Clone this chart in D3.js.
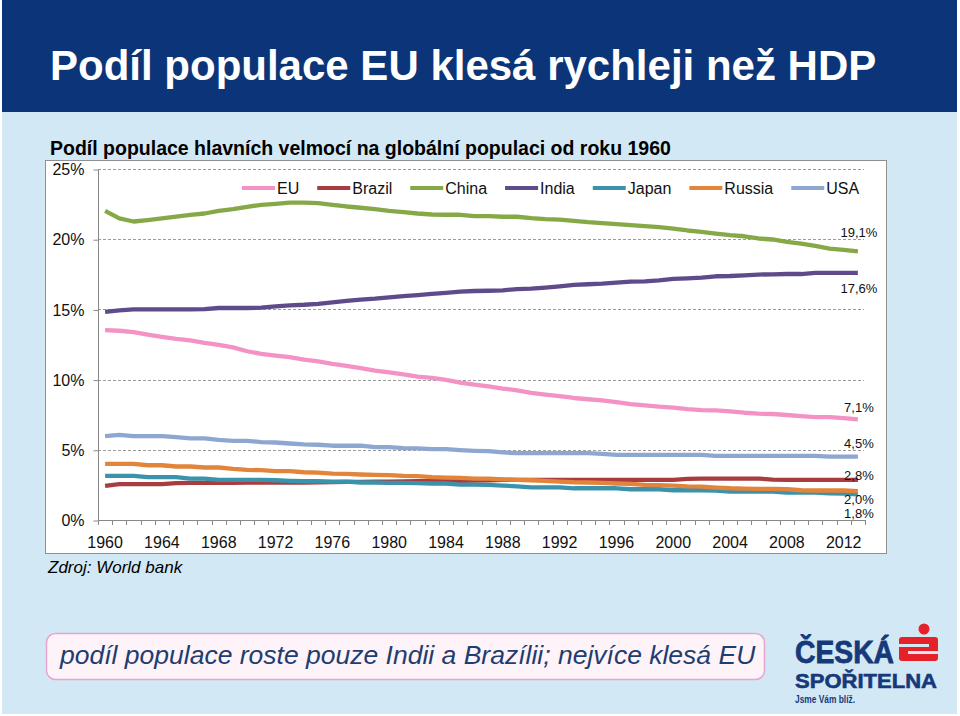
<!DOCTYPE html>
<html><head><meta charset="utf-8">
<script src="https://cdn.jsdelivr.net/npm/d3@7"></script>
<style>
body{margin:0;background:#fff;}
svg{display:block;font-family:"Liberation Sans",Arial,sans-serif;}
</style>
</head><body>
<svg id="c" width="960" height="716"></svg>
<script>
// ---------- data ----------
const years = [1960,1961,1962,1963,1964,1965,1966,1967,1968,1969,1970,1971,1972,1973,1974,1975,1976,1977,1978,1979,
  1980,1981,1982,1983,1984,1985,1986,1987,1988,1989,1990,1991,1992,1993,1994,1995,1996,1997,1998,1999,
  2000,2001,2002,2003,2004,2005,2006,2007,2008,2009,2010,2011,2012,2013];
const seriesNames = ["EU","Brazil","China","India","Japan","Russia","USA"];
const eu = [13.52,13.48,13.38,13.21,13.05,12.9,12.79,12.62,12.48,12.29,12.02,11.83,11.71,11.6,11.43,11.29,11.12,10.98,10.81,10.64,
  10.52,10.38,10.21,10.12,9.98,9.79,9.64,9.52,9.36,9.24,9.05,8.93,8.83,8.69,8.6,8.52,8.4,8.26,8.17,8.07,
  8.0,7.9,7.83,7.81,7.74,7.64,7.57,7.55,7.48,7.4,7.33,7.33,7.26,7.17];
const brazil = [2.43,2.55,2.55,2.55,2.55,2.62,2.64,2.64,2.64,2.64,2.67,2.67,2.67,2.67,2.67,2.69,2.7,2.71,2.72,2.73,
  2.74,2.75,2.76,2.77,2.78,2.79,2.8,2.83,2.86,2.86,2.86,2.86,2.86,2.86,2.86,2.86,2.86,2.86,2.86,2.86,
  2.86,2.93,2.95,2.95,2.95,2.95,2.95,2.88,2.86,2.86,2.86,2.86,2.86,2.86];
const china = [22.02,21.48,21.26,21.36,21.48,21.6,21.74,21.83,22.02,22.14,22.31,22.45,22.52,22.6,22.6,22.57,22.45,22.33,22.24,22.14,
  22.02,21.93,21.83,21.76,21.74,21.74,21.64,21.64,21.6,21.6,21.5,21.43,21.4,21.31,21.21,21.14,21.07,21.0,20.93,20.86,
  20.76,20.62,20.52,20.4,20.29,20.21,20.05,19.98,19.81,19.69,19.52,19.33,19.24,19.14];
const india = [14.83,14.93,15.0,15.0,15.0,15.0,15.0,15.02,15.1,15.1,15.1,15.12,15.21,15.29,15.33,15.4,15.5,15.6,15.69,15.76,
  15.86,15.95,16.02,16.1,16.17,16.26,16.31,16.33,16.36,16.45,16.48,16.55,16.64,16.74,16.79,16.83,16.9,16.98,17.0,17.07,
  17.17,17.21,17.26,17.36,17.38,17.43,17.48,17.5,17.52,17.52,17.6,17.6,17.6,17.6];
const japan = [3.14,3.14,3.14,3.05,3.05,3.05,2.95,2.95,2.86,2.86,2.86,2.86,2.83,2.79,2.76,2.76,2.74,2.74,2.67,2.67,
  2.64,2.64,2.62,2.6,2.6,2.52,2.52,2.5,2.45,2.4,2.33,2.33,2.33,2.26,2.26,2.26,2.26,2.19,2.19,2.19,
  2.12,2.12,2.12,2.1,2.02,2.02,2.02,2.02,1.95,1.95,1.95,1.9,1.88,1.83];
const russia = [4.0,4.0,4.0,3.9,3.9,3.81,3.81,3.74,3.74,3.64,3.57,3.55,3.48,3.48,3.4,3.38,3.31,3.29,3.24,3.21,
  3.19,3.14,3.12,3.05,3.02,3.0,2.95,2.95,2.9,2.86,2.83,2.79,2.74,2.69,2.67,2.64,2.6,2.57,2.5,2.48,
  2.45,2.4,2.38,2.31,2.26,2.24,2.21,2.21,2.19,2.12,2.1,2.1,2.1,2.05];
const usa = [5.98,6.07,5.98,5.98,5.98,5.9,5.81,5.81,5.71,5.64,5.64,5.55,5.52,5.45,5.38,5.36,5.29,5.29,5.29,5.19,
  5.19,5.12,5.1,5.05,5.05,4.98,4.93,4.9,4.81,4.76,4.76,4.76,4.76,4.76,4.76,4.71,4.64,4.64,4.64,4.64,
  4.64,4.64,4.64,4.57,4.57,4.57,4.57,4.57,4.57,4.57,4.57,4.52,4.52,4.52];
const endLabels = ["7,1%","2,8%","19,1%","17,6%","1,8%","2,0%","4,5%"];
const yTicks = [0,5,10,15,20,25];
const yTickLabels = ["0%","5%","10%","15%","20%","25%"];
const xTickYears = [1960,1964,1968,1972,1976,1980,1984,1988,1992,1996,2000,2004,2008,2012];
const xTickLabels = ["1960","1964","1968","1972","1976","1980","1984","1988","1992","1996","2000","2004","2008","2012"];

// ---------- styling ----------
const colors = ["#f392c4","#a83c3f","#86a947","#5f4b8b","#3a93ab","#e2843a","#8ea7d1"];
const labelDy = [-12,-4,-19,16,19,8,-13];
const values = [eu,brazil,china,india,japan,russia,usa];

const svg = d3.select("#c");

// backgrounds
svg.append("rect").attr("x",2).attr("y",0).attr("width",955).attr("height",112).attr("fill","#0b3578");
svg.append("rect").attr("x",2).attr("y",112).attr("width",955).attr("height",602).attr("fill","#d3e8f5");

svg.append("text").attr("x",50).attr("y",80).attr("font-size",42).attr("font-weight","bold")
  .attr("fill","#fff").text("Podíl populace EU klesá rychleji než HDP");

svg.append("text").attr("x",50).attr("y",155).attr("font-size",19.5).attr("font-weight","bold")
  .attr("fill","#000").text("Podíl populace hlavních velmocí na globální populaci od roku 1960");

svg.append("rect").attr("x",45.5).attr("y",160.5).attr("width",841).attr("height",393)
  .attr("fill","#fff").attr("stroke","#8f8f8f");

// scales
const x = d3.scaleBand().domain(years).range([98,865]);
const y = d3.scaleLinear().domain([0,25]).range([520,169]);
const cx = d => x(d) + x.bandwidth()/2;

// gridlines
svg.append("g").selectAll("line").data(yTicks.filter(d=>d>0)).join("line")
  .attr("x1",98).attr("x2",864).attr("y1",d=>Math.round(y(d))+0.5).attr("y2",d=>Math.round(y(d))+0.5)
  .attr("stroke","#9b9b9b").attr("stroke-dasharray","3,2");

// y axis
const ya = svg.append("g").attr("transform","translate(98.5,0.5)")
  .call(d3.axisLeft(y).tickValues(yTicks).tickSize(5).tickPadding(9).tickFormat((d,i)=>yTickLabels[i]));
ya.select(".domain").attr("stroke","#888").attr("d","M-0,169V520");
ya.selectAll(".tick line").attr("stroke","#888");
ya.selectAll("text").attr("font-size",16).attr("fill","#111").attr("font-family","Liberation Sans, Arial, sans-serif");

// x axis
const xa = svg.append("g").attr("transform","translate(0,520.5)")
  .call(d3.axisBottom(x).tickValues(xTickYears).tickSize(0).tickPadding(16)
    .tickFormat(d=>xTickLabels[xTickYears.indexOf(d)]));
xa.select(".domain").attr("stroke","#888").attr("d","M98,0H865");
xa.selectAll("text").attr("font-size",16).attr("fill","#111").attr("font-family","Liberation Sans, Arial, sans-serif");
const bounds = years.map(d=>x(d)).concat([x(years[years.length-1])+x.bandwidth()]);
svg.append("g").selectAll("line").data(bounds).join("line")
  .attr("x1",d=>Math.round(d)+0.5).attr("x2",d=>Math.round(d)+0.5)
  .attr("y1",520).attr("y2",525).attr("stroke","#888");

// lines
const line = d3.line().x((d,i)=>cx(years[i])).y(d=>y(d));
svg.append("g").selectAll("path").data(values).join("path")
  .attr("d",d=>line(d)).attr("fill","none").attr("stroke",(d,i)=>colors[i])
  .attr("stroke-width",4.3).attr("stroke-linejoin","round").attr("stroke-linecap","butt");

// end labels
const last = years[years.length-1];
svg.append("g").selectAll("text").data(values).join("text")
  .attr("x",cx(last)+1).attr("y",(d,i)=>y(d[d.length-1])+labelDy[i])
  .attr("dy","0.35em").attr("text-anchor","middle").attr("font-size",13).attr("fill","#111")
  .text((d,i)=>endLabels[i]);

// legend
let lx = 242;
const lg = svg.append("g");
seriesNames.forEach((n,i)=>{
  lg.append("line").attr("x1",lx).attr("x2",lx+33).attr("y1",188).attr("y2",188)
    .attr("stroke",colors[i]).attr("stroke-width",4);
  const t = lg.append("text").attr("x",lx+35).attr("y",194).attr("font-size",16).attr("fill","#111").text(n);
  lx += 35 + t.node().getComputedTextLength() + 18;
});

// source
svg.append("text").attr("x",48).attr("y",573).attr("font-size",17).attr("font-style","italic")
  .attr("fill","#000").text("Zdroj: World bank");

// bottom box
svg.append("rect").attr("x",46.5).attr("y",633.5).attr("width",718).attr("height",46).attr("rx",9)
  .attr("fill","#fdf3f9").attr("stroke","#e8a6cf").attr("stroke-width",1.5);
svg.append("text").attr("x",60).attr("y",664).attr("font-size",26.5).attr("font-style","italic")
  .attr("fill","#1e3d70").text("podíl populace roste pouze Indii a Brazílii; nejvíce klesá EU");

// logo
const logo = svg.append("g");
logo.append("text").attr("x",795).attr("y",663).attr("font-size",31).attr("font-weight","bold")
  .attr("fill","#16397a").attr("stroke","#16397a").attr("stroke-width",0.8)
  .attr("textLength",99).attr("lengthAdjust","spacingAndGlyphs").text("ČESKÁ");
logo.append("text").attr("x",795).attr("y",688).attr("font-size",21).attr("font-weight","bold")
  .attr("fill","#16397a").attr("stroke","#16397a").attr("stroke-width",0.6)
  .attr("textLength",142).attr("lengthAdjust","spacingAndGlyphs").text("SPOŘITELNA");
logo.append("text").attr("x",795).attr("y",703).attr("font-size",10).attr("font-weight","bold")
  .attr("fill","#16397a").attr("textLength",60).attr("lengthAdjust","spacingAndGlyphs").text("Jsme Vám blíž.");
logo.append("circle").attr("cx",924).attr("cy",629).attr("r",5.5).attr("fill","#e5222a");
logo.append("rect").attr("x",899).attr("y",637).attr("width",39).attr("height",24).attr("rx",3).attr("fill","#e5222a");
logo.append("rect").attr("x",899).attr("y",644).attr("width",30).attr("height",3).attr("fill","#d3e8f5");
logo.append("rect").attr("x",908).attr("y",651).attr("width",30).attr("height",3).attr("fill","#d3e8f5");
</script>
</body></html>
